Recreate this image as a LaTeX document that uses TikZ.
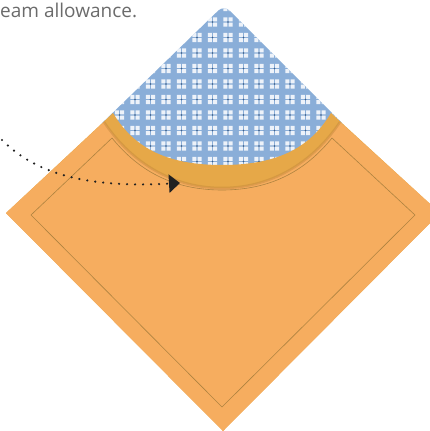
\documentclass[tikz,border=0pt]{standalone}
\usepackage{fontspec}
\setmainfont{Open Sans}
\usetikzlibrary{calc,arrows.meta}

\definecolor{naranja}{HTML}{F6AD5F}
\definecolor{ribete}{HTML}{E6A848}
\definecolor{sombra}{HTML}{C2873A}
\definecolor{costura}{HTML}{9C7838}
\definecolor{azul}{HTML}{8AAED8}
\definecolor{azuloscuro}{HTML}{3F5E86}
\definecolor{gristexto}{HTML}{6B6B6B}

\begin{document}
\begin{tikzpicture}[x=1pt,y=-1pt]
  % Definimos los estilos
  \tikzstyle{cuerpo} = [fill=naranja];
  \tikzstyle{banda} = [fill=ribete];
  \tikzstyle{pespunte} = [draw=costura, line width=0.6pt, opacity=0.8];
  \tikzstyle{puntos} = [draw=black!87, line width=2.4pt, line cap=round, dash pattern=on 0pt off 8pt, -{Triangle[length=11pt,width=18pt]}];
  \tikzstyle{texto} = [text=gristexto, inner sep=0pt, font=\fontsize{19}{23}\selectfont];

  \useasboundingbox (0,0) rectangle (430,431);

  % Esquinas de la servilleta
  \coordinate (L) at (6,213);
  \coordinate (R) at (440,213);
  \coordinate (B) at (223,431);

  % Tela de fondo con el estampado azul
  \begin{scope}
    \clip[rounded corners=8pt] (97,128) -- (224,5) -- (347,128) -- (347,200) -- (97,200) -- cycle;
    \fill[azul] (90,0) rectangle (350,200);
    \foreach \i in {-8,...,8}
      \foreach \j in {-1,...,11} {
        \begin{scope}[shift={(228+15.5*\i,22+15.5*\j)}]
          \fill[white, opacity=0.85] (-4.6,-4.6) rectangle (-0.7,-0.7) (0.7,-4.6) rectangle (4.6,-0.7)
            (-4.6,0.7) rectangle (-0.7,4.6) (0.7,0.7) rectangle (4.6,4.6);
          \fill[azuloscuro] (0,0) circle (0.9);
        \end{scope}
      }
  \end{scope}

  % Ribete curvo
  \fill[banda] (L) -- (113,113) .. controls (135,150) and (170,165) .. (222,165)
    .. controls (274,165) and (309,150) .. (331,113) -- (R) -- (B) -- cycle;

  % Parte naranja
  \fill[cuerpo] (L) -- (104,122) .. controls (128,158) and (168,188) .. (222,188)
    .. controls (276,188) and (316,158) .. (340,122) -- (R) -- (B) -- cycle;
  \draw[sombra, line width=2.5pt, opacity=0.45] (104,122) .. controls (128,158) and (168,188) .. (222,188)
    .. controls (276,188) and (316,158) .. (340,122);

  % Costura
  \draw[pespunte] (112,138) .. controls (138,170) and (172,190) .. (222,190)
    .. controls (272,190) and (306,170) .. (332,138) -- (415,215) -- (222,407) -- (31,215) -- cycle;

  % Rotulo y flecha
  \node[texto, anchor=base west] (rotulo) at (0,17) {eam allowance.};
  \coordinate (inicio) at (2,140);
  \coordinate (punta) at (180,183);
  \draw[puntos] (inicio) .. controls (30,168) and (75,189) .. (punta);
\end{tikzpicture}
\end{document}
